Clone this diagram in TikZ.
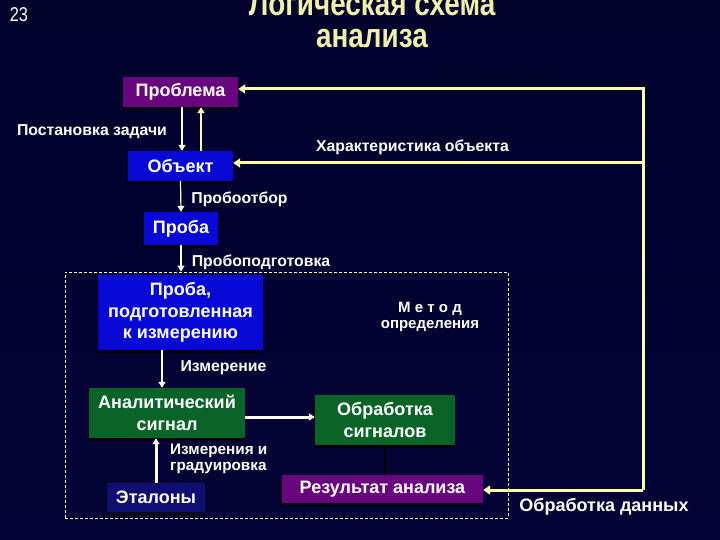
\documentclass[tikz,border=0pt]{standalone}
\usepackage{fontspec}
\setmainfont{Liberation Sans}
\newfontfamily\titlefont[FakeStretch=0.82]{Liberation Sans}
\usetikzlibrary{arrows.meta,shadows}
\definecolor{bgtop}{RGB}{2,2,45}
\definecolor{bgmid}{RGB}{4,4,135}
\definecolor{bgbot}{RGB}{3,3,55}
\definecolor{ttl}{RGB}{240,240,170}
\definecolor{ylw}{RGB}{255,255,170}
\definecolor{purp}{RGB}{105,5,125}
\definecolor{blu}{RGB}{8,8,215}
\definecolor{grn}{RGB}{10,100,40}
\definecolor{navy}{RGB}{15,15,115}
\definecolor{dimtxt}{RGB}{5,5,35}
\tikzset{
  box/.style={draw=none, text=white, align=center, inner sep=0pt,
    font=\bfseries\fontsize{18}{21.5}\selectfont,
    drop shadow={shadow xshift=-1pt, shadow yshift=-3pt, fill=black, opacity=0.75}},
  lbl/.style={text=white, inner sep=0pt, font=\bfseries\fontsize{15.8}{15.8}\selectfont},
  ahead/.style={-{Triangle[length=6pt,width=7pt]}},
  wthin/.style={draw=white, line width=1.2pt, ahead},
  wthick/.style={draw=white!92!yellow, line width=3pt, ahead},
  yarr/.style={draw=ylw, line width=3pt, -{Triangle[length=7pt,width=9pt]}},
}
\begin{document}
\begin{tikzpicture}[x=1pt,y=-1pt]
\useasboundingbox (0,0) rectangle (720,540);
\shade[top color=bgtop, middle color=bgmid, bottom color=bgbot] (0,0) rectangle (720,540);

% title
\node[text=white, font=\titlefont\fontsize{20}{20}\selectfont, anchor=base] (num) at (19,22) {23};
\node[text=ttl, font=\titlefont\bfseries\fontsize{34}{34}\selectfont, anchor=base] (t1) at (372,16) {Логическая схема};
\node[text=ttl, font=\titlefont\bfseries\fontsize{34}{34}\selectfont, anchor=base] (t2) at (372,48) {анализа};
\node[text=dimtxt, font=\bfseries\fontsize{15}{15}\selectfont] (interp) at (500,75) {Интерпретация};

% frame
\node[draw=white, dashed, dash pattern=on 3pt off 2pt, line width=0.8pt,
      minimum width=443pt, minimum height=246pt, inner sep=0pt] (frame) at (286.5,395) {};

% boxes
\node[box, fill=purp, minimum width=115pt, minimum height=30pt] (problem) at (180.5,92) {Проблема};
\node[box, fill=blu, minimum width=105pt, minimum height=30pt] (obj) at (180.5,166) {Объект};
\node[box, fill=blu, minimum width=74pt, minimum height=33pt] (proba) at (181,228.5) {Проба};
\node[box, fill=blu, minimum width=165pt, minimum height=75pt] (prep) at (180.5,312.5) {Проба,\\подготовленная\\к измерению};
\node[box, fill=grn, minimum width=156pt, minimum height=50pt] (anal) at (167,413) {Аналитический\\сигнал};
\node[box, fill=grn, minimum width=140pt, minimum height=50pt] (proc) at (385,420) {Обработка\\сигналов};
\node[box, fill=purp, minimum width=201pt, minimum height=28pt] (res) at (382.5,489) {Результат анализа};
\node[box, fill=navy, minimum width=98pt, minimum height=29pt] (etal) at (156,497.5) {Эталоны};

% labels
\node[lbl] (lpost) at (92,132) {Постановка задачи};
\node[lbl] (lchar) at (412.5,147) {Характеристика объекта};
\node[lbl] (lotb) at (239.5,199) {Пробоотбор};
\node[lbl] (lpod) at (261,262) {Пробоподготовка};
\node[lbl] (lizm) at (223.5,368) {Измерение};
\node[lbl, align=center, font=\bfseries\fontsize{15}{15.5}\selectfont] (lmet) at (430,317) {М е т о д\\определения};
\node[lbl, align=left, anchor=north west, font=\bfseries\fontsize{15.3}{15.5}\selectfont] (lgrad) at (170,444) {Измерения и\\градуировка};
\node[lbl, font=\bfseries\fontsize{18}{18}\selectfont] (ldata) at (604,507) {Обработка данных};

% connectors
\draw[wthin] ([xshift=1.5pt]problem.south) -- ([xshift=1.5pt]obj.north);
\draw[draw=ylw, line width=2pt, ahead] ([xshift=20.5pt]obj.north) -- ([xshift=20.5pt]problem.south);
\draw[wthin] (obj.south) -- (proba.north);
\draw[wthin] (proba.south) -- (proba.south |- frame.north);
\draw[draw=white, line width=2.4pt, ahead] ([xshift=-18.5pt]prep.south) -- ([xshift=-18.5pt]prep.south |- anal.north);
\draw[wthick] ([yshift=-4pt]anal.east) -- ([yshift=-4pt]anal.east -| proc.west);
\draw[wthick] (etal.north) -- (etal.north |- anal.south);
\draw[draw=black, line width=1.6pt] (proc.south) -- (proc.south |- res.north);

\coordinate (tr) at (643,89);
\coordinate (br) at (643,490);
\draw[yarr] (br) -- (tr) -- (tr -| problem.east);
\draw[yarr] ([yshift=3pt]obj.east -| tr) -- ([yshift=3pt]obj.east);
\draw[yarr] (br) -- (br -| res.east);
\end{tikzpicture}
\end{document}
